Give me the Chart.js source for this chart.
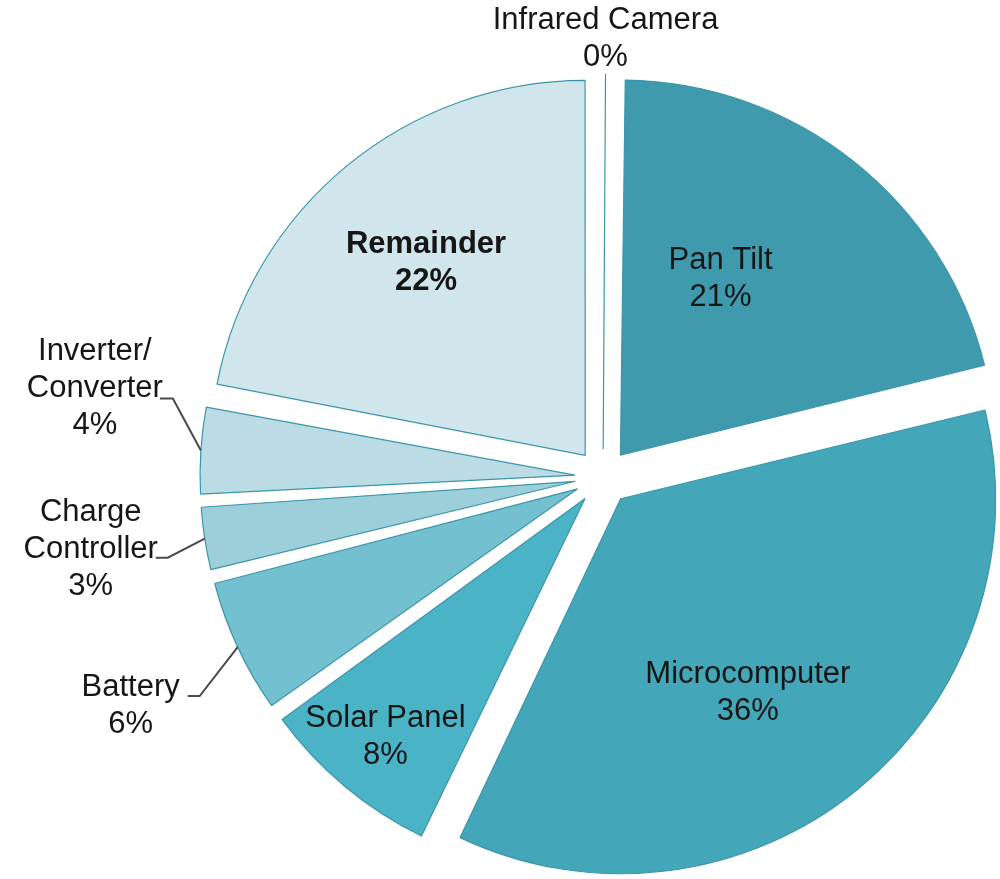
<!DOCTYPE html>
<html>
<head>
<meta charset="utf-8">
<script src="https://cdn.jsdelivr.net/npm/chart.js@4.4.1/dist/chart.umd.min.js"></script>
<style>
  html, body { margin: 0; padding: 0; background: #ffffff; }
  #wrap { width: 1000px; height: 879px; }
</style>
</head>
<body>
<div id="wrap"><canvas id="c" width="1000" height="879"></canvas></div>
<script>
// ---- data ----
const categories = ['Infrared Camera', 'Pan Tilt', 'Microcomputer', 'Solar Panel', 'Battery', 'Charge Controller', 'Inverter/Converter', 'Remainder'];
const labelLines = [['Infrared Camera'], ['Pan Tilt'], ['Microcomputer'], ['Solar Panel'], ['Battery'], ['Charge', 'Controller'], ['Inverter/', 'Converter'], ['Remainder']];
const shares = [0.2, 21, 36, 8, 6, 3, 4, 22];
const sliceColors = ['#a9d1db', '#3f9aad', '#44a6b9', '#4bb3c6', '#73c0d1', '#9dcfdb', '#bbdce5', '#d1e5ec'];

// ---- layout / style (not data) ----
const R = 375;
const OFFSET = 112;            // Chart.js translates by offset/4 = 28px
const FONT = '"Liberation Sans", Arial, Helvetica, sans-serif';
const FONT_SIZE = 31;
const LINE_H = 37;
// inside labels: fraction of radius, angle nudge (deg)
// outside labels: block centre relative to arc edge point, leader elbow, tail
const labelLayout = {
  'Infrared Camera': {out: true, lx: 0, ly: -35},
  'Pan Tilt': {frac: 0.54, da: -8.8},
  'Microcomputer': {frac: 0.62, da: 6},
  'Solar Panel': {frac: 0.83, da: 0},
  'Battery': {out: true, lx: -107, ly: 59, ex: -38, ey: 49, tail: 12},
  'Charge Controller': {out: true, lx: -114, ly: 11, ex: -37, ey: 19, tail: 12},
  'Inverter/Converter': {out: true, lx: -106, ly: -62, ex: -28, ey: -52, tail: 13},
  'Remainder': {frac: 0.667, da: 0, bold: true}
};

const radiusFix = {
  id: 'radiusFix',
  beforeDatasetsDraw(chart) {
    const meta = chart.getDatasetMeta(0);
    meta.data.forEach(el => {
      const circ = el.endAngle - el.startAngle;
      const fix = 1 - Math.sin(Math.min(Math.PI, circ));
      el.outerRadius = R - (OFFSET / 4) * fix;
    });
  }
};

const pieLabels = {
  id: 'pieLabels',
  afterDatasetsDraw(chart) {
    const ctx = chart.ctx;
    const meta = chart.getDatasetMeta(0);
    const total = shares.reduce((a, b) => a + b, 0);
    ctx.save();
    ctx.textAlign = 'center';
    ctx.textBaseline = 'middle';
    meta.data.forEach((el, i) => {
      const name = categories[i];
      const L = labelLayout[name];
      const mid = (el.startAngle + el.endAngle) / 2;
      const t = OFFSET / 4;
      const cx = el.x + Math.cos(mid) * t;
      const cy = el.y + Math.sin(mid) * t;
      const lines = labelLines[i].concat([Math.round(shares[i] / total * 100) + '%']);
      let bx, by;
      if (L.out) {
        const ax = cx + Math.cos(mid) * R;
        const ay = cy + Math.sin(mid) * R;
        bx = ax + L.lx; by = ay + L.ly;
        if (L.tail) {
          ctx.strokeStyle = '#4a4a4a';
          ctx.lineWidth = 2;
          ctx.beginPath();
          ctx.moveTo(ax, ay);
          ctx.lineTo(ax + L.ex, ay + L.ey);
          ctx.lineTo(ax + L.ex - L.tail, ay + L.ey);
          ctx.stroke();
        }
      } else {
        const a = mid + L.da * Math.PI / 180;
        bx = cx + Math.cos(a) * R * L.frac;
        by = cy + Math.sin(a) * R * L.frac;
      }
      ctx.fillStyle = '#161616';
      ctx.font = (L.bold ? 'bold ' : '') + FONT_SIZE + 'px ' + FONT;
      const n = lines.length;
      lines.forEach((s, k) => {
        ctx.fillText(s, bx, by + (k - (n - 1) / 2) * LINE_H);
      });
    });
    ctx.restore();
  }
};

new Chart(document.getElementById('c'), {
  type: 'pie',
  data: {
    labels: categories,
    datasets: [{
      data: shares,
      backgroundColor: sliceColors,
      borderColor: '#3c96a9',
      borderWidth: 1.2,
      offset: OFFSET,
      radius: R,
      clip: false
    }]
  },
  options: {
    responsive: false,
    animation: false,
    layout: { padding: { left: 206, right: 0, top: 75, bottom: 0 } },
    plugins: { legend: { display: false }, tooltip: { enabled: false } }
  },
  plugins: [radiusFix, pieLabels]
});
</script>
</body>
</html>
